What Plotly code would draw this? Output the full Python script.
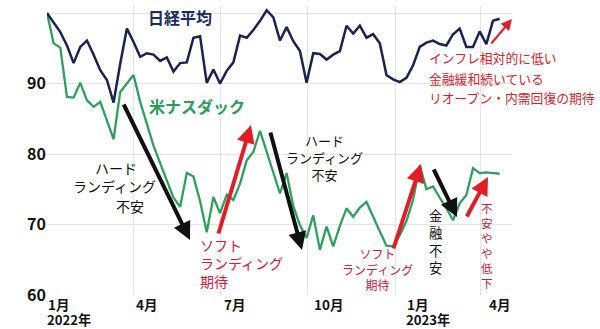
import plotly.graph_objects as go
import pandas as pd

# ---- data (weekly closes, index: 2021-12-31 = 100) ----
start_date = "2021-12-31"
nikkei = [100.0, 98.7, 97.3, 95.4, 92.9, 95.2, 96.1, 94.1, 91.9, 90.5,
          87.3, 92.8, 97.8, 95.9, 93.8, 94.3, 94.1, 93.2, 93.7, 91.7,
          92.9, 93.0, 96.5, 96.7, 90.1, 92.0, 90.0, 91.8, 93.0, 96.8,
          96.5, 97.6, 98.9, 100.4, 99.4, 96.1, 98.0, 96.0, 94.6, 90.1,
          94.3, 94.2, 93.4, 94.1, 94.6, 98.2, 97.1, 98.2, 96.5, 97.0,
          95.7, 91.2, 90.6, 90.2, 90.8, 92.6, 95.2, 95.8, 96.1, 95.6,
          95.4, 97.0, 97.8, 95.2, 95.2, 97.4, 95.6, 98.9, 99.2]
nasdaq = [100.0, 95.7, 95.1, 88.1, 88.0, 90.1, 87.6, 86.7, 87.4, 84.6,
          82.1, 88.8, 90.0, 91.2, 87.4, 84.3, 81.2, 78.7, 76.3, 73.8,
          72.5, 77.3, 76.8, 73.3, 68.9, 73.9, 71.6, 74.2, 73.5, 75.8,
          79.1, 80.3, 83.3, 80.4, 77.2, 74.4, 77.3, 72.6, 69.9, 68.1,
          71.3, 66.4, 69.7, 66.9, 69.8, 72.3, 71.1, 72.4, 73.2, 71.0,
          69.0, 67.0, 66.9, 68.5, 70.5, 73.5, 78.4, 75.0, 75.4, 73.8,
          72.3, 70.6, 73.0, 74.2, 78.0, 77.3, 77.4, 77.3, 77.2]
dates = pd.date_range(start_date, periods=len(nikkei), freq="7D")

x_tick_dates = ["2022-01-01", "2022-04-01", "2022-07-01", "2022-10-01", "2023-01-01", "2023-04-01"]
x_tick_labels = ["1月", "4月", "7月", "10月", "1月", "4月"]
year_labels = ["2022年", "", "", "", "2023年", ""]
y_ticks = [60, 70, 80, 90, 100]

# ---- layout geometry ----
W, H = 600, 329
L, R, T, B = 47, 88, 6, 34
FONT = "Noto Sans CJK JP"


def px(x):
    return (x - L) / (W - L - R)


def py(y):
    return (H - B - y) / (H - T - B)


fig = go.Figure()
fig.add_trace(go.Scatter(x=dates, y=nasdaq, mode="lines",
                         line=dict(color="#2f9e5f", width=2.3), name="米ナスダック"))
fig.add_trace(go.Scatter(x=dates, y=nikkei, mode="lines",
                         line=dict(color="#1a2250", width=2.5), name="日経平均"))

ann = []


def text(t, x, y, size, color, bold=False, xanchor="center", align="center",
         yanchor="middle"):
    ann.append(dict(text=t, x=px(x), y=py(y), xref="paper", yref="paper",
                    xanchor=xanchor, yanchor=yanchor, showarrow=False, align=align,
                    borderpad=0,
                    font=dict(family=FONT, size=size, color=color,
                              weight="bold" if bold else "normal")))


def arrow(tx, ty, hx, hy, color, width=4, size=0.9):
    ann.append(dict(text="", x=px(hx), y=py(hy), xref="paper", yref="paper",
                    ax=tx - hx, ay=ty - hy, axref="pixel", ayref="pixel",
                    showarrow=True, arrowhead=2, arrowsize=size,
                    arrowwidth=width, arrowcolor=color))


BLACK = "#111111"
RED = "#e01e25"
CRIMSON = "#c8203f"

# series labels
text("日経平均", 180, 17, 16, "#1f2b5e", bold=True)
text("米ナスダック", 197, 106, 16, "#2e9a5c", bold=True)

# hard landing 1
text("ハード", 116, 168, 14, BLACK)
text("ランディング", 114, 186, 14, BLACK)
text("不安", 130, 206, 14, BLACK)
arrow(123, 103, 190, 240, BLACK)

# soft landing 1
text("ソフト<br>ランディング<br>期待", 199, 263, 14, CRIMSON, xanchor="left", align="left")
arrow(218, 235, 251, 125, RED)

# hard landing 2
text("ハード<br>ランディング<br>不安", 324, 157, 13, BLACK)
arrow(270, 131, 302, 250, BLACK)

# soft landing 2
text("ソフト<br>ランディング<br>期待", 377, 269, 12, CRIMSON)
arrow(393, 250, 421, 164, RED)

# financial anxiety (vertical)
text("金<br>融<br>不<br>安", 435, 241, 13.3, BLACK)
arrow(433, 168, 457, 217, BLACK)

# anxiety easing (vertical)
text("不<br>安<br>や<br>や<br>低<br>下", 487, 245, 11.6, CRIMSON)
arrow(466, 218, 488, 177, RED)

# top-right comment
arrow(490, 45, 512, 19, RED, width=2, size=1.1)
text("インフレ相対的に低い", 428, 58, 12.8, "#d3232f", xanchor="left")
text("金融緩和続いている", 428, 78, 12.8, "#d3232f", xanchor="left")
text("リオープン・内需回復の期待", 428, 97, 12.8, "#d3232f", xanchor="left")

# x labels (month, with year under the January ticks)
for lab, yl, xx in zip(x_tick_labels, year_labels, [47, 135, 223, 313, 406, 488]):
    text(lab, xx, 304, 13.5, BLACK, bold=True, xanchor="left")
    if yl:
        text(yl, xx - 1, 319, 13.2, BLACK, bold=True, xanchor="left")

fig.update_layout(
    width=W, height=H,
    margin=dict(l=L, r=R, t=T, b=B),
    paper_bgcolor="white", plot_bgcolor="white",
    showlegend=False,
    annotations=ann,
    xaxis=dict(type="date", range=["2021-12-31", "2023-05-04"],
               tickvals=x_tick_dates, showticklabels=False,
               showgrid=True, gridcolor="#e4e4e4", gridwidth=1,
               zeroline=False, showline=False, ticks=""),
    yaxis=dict(range=[60, 101], tickvals=y_ticks,
               showgrid=True, gridcolor="#e4e4e4", gridwidth=1,
               zeroline=False, showline=False, ticks="",
               tickfont=dict(family=FONT, size=16, color=BLACK, weight="bold")),
)

fig.write_html("out.html")
